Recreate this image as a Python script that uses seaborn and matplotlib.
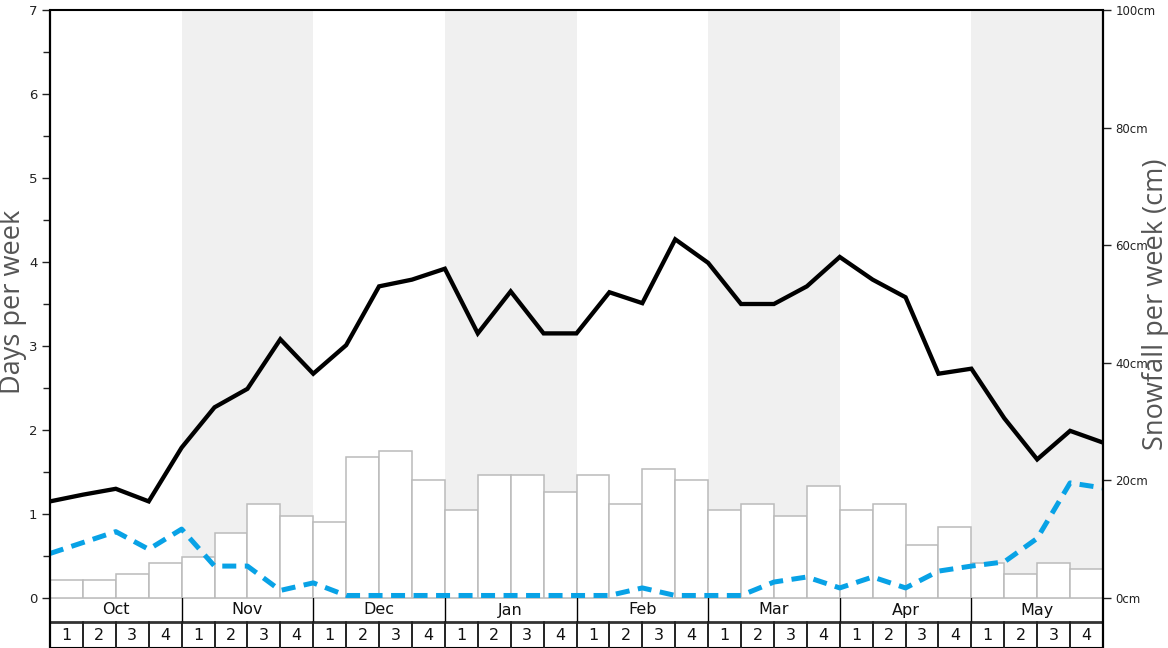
import numpy as np
import pandas as pd
import matplotlib
matplotlib.use("Agg")
import matplotlib.pyplot as plt
import seaborn as sns

sns.set_theme(style="white")
plt.rcParams.update({
    "font.family": ["DejaVu Sans"],
    "xtick.major.size": 0,
    "ytick.direction": "out",
})

# --- data ---
months = ["Oct", "Nov", "Dec", "Jan", "Feb", "Mar", "Apr", "May"]
week_labels = ["1", "2", "3", "4"]

# weekly snowfall (cm), one bar per week
snowfall_cm = [3, 3, 4, 6, 7, 11, 16, 14, 13, 24, 25, 20, 15, 21, 21, 18,
               21, 16, 22, 20, 15, 16, 14, 19, 15, 16, 9, 12, 6, 4, 6, 5]

# lines sampled at week boundaries (33 points)
days_black = [1.15, 1.23, 1.30, 1.15, 1.79, 2.27, 2.49, 3.08, 2.67, 3.01, 3.71,
              3.79, 3.92, 3.15, 3.65, 3.15, 3.15, 3.64, 3.51, 4.27, 3.99, 3.50,
              3.50, 3.71, 4.06, 3.79, 3.58, 2.67, 2.73, 2.14, 1.65, 1.99, 1.85]
days_blue = [0.53, 0.66, 0.79, 0.58, 0.82, 0.38, 0.38, 0.09, 0.18, 0.03, 0.03,
             0.03, 0.03, 0.03, 0.03, 0.03, 0.03, 0.03, 0.12, 0.03, 0.03, 0.03,
             0.19, 0.25, 0.12, 0.25, 0.12, 0.32, 0.38, 0.43, 0.71, 1.37, 1.31]

n_weeks = len(snowfall_cm)
bars_df = pd.DataFrame({"week": np.arange(n_weeks) + 0.5, "snow": snowfall_cm})
lines_df = pd.DataFrame({"pos": np.arange(n_weeks + 1),
                         "black": days_black, "blue": days_blue})

W, H = 1168, 648
fig = plt.figure(figsize=(W / 100, H / 100), dpi=100)
L, R, T, B = 50, 1103, 10, 598
ax_r = fig.add_axes([L / W, (H - B) / H, (R - L) / W, (B - T) / H])
ax = ax_r.twinx()
# left-axis stuff (lines) on top, right-axis (bars) behind
ax.set_zorder(ax_r.get_zorder() + 1)
ax.patch.set_visible(False)

sns.barplot(data=bars_df, x="week", y="snow", native_scale=True, width=1,
            color="white", saturation=1, edgecolor="#bbbbbb", linewidth=1.1,
            errorbar=None, ax=ax_r, zorder=2)

# alternate month shading (behind the bars)
for i in range(1, len(months), 2):
    ax_r.axvspan(i * 4, i * 4 + 4, facecolor="#f0f0f0", edgecolor="none",
                 lw=0, zorder=0.5)

sns.lineplot(data=lines_df, x="pos", y="black", color="black", lw=3.1,
             ax=ax, solid_joinstyle="miter")
sns.lineplot(data=lines_df, x="pos", y="blue", color="#08a2e6", lw=3.6,
             linestyle=(0, (2.8, 1.7)), ax=ax)

ax.set_xlim(0, n_weeks)
ax_r.set_xlim(0, n_weeks)
ax.set_ylim(0, 7)
ax_r.set_ylim(0, 100)

# move "days" axis to the left, snowfall to the right
ax.yaxis.tick_left()
ax_r.yaxis.tick_right()

ax.set_yticks(range(0, 8))
ax.set_yticks(np.arange(0.5, 7, 1), minor=True)
ax.tick_params(axis="y", which="both", length=6, width=1, colors="#222",
               labelsize=9.5, left=True, right=False, pad=3)
ax.tick_params(axis="y", which="minor", length=5)
ax_r.set_yticks(range(0, 101, 20))
ax_r.set_yticklabels([f"{v}cm" for v in range(0, 101, 20)])
ax_r.tick_params(axis="y", length=6, width=1, colors="#222", labelsize=8.5,
                 right=True, left=False, pad=3)

for a in (ax, ax_r):
    a.set_xticks([])
    a.set_xlabel("")
    a.set_ylabel("")
    for s in a.spines.values():
        s.set_visible(False)
ax.spines["top"].set_visible(True)
ax.spines["top"].set_color("black")
ax.spines["top"].set_linewidth(1.5)

# axis titles, placed like the reference
lab_font = ["Open Sans", "DejaVu Sans"]
fig.text(13 / W, (H - 302) / H, "Days per week", rotation=90, ha="center",
         va="center", family=lab_font, fontsize=19.5, color="#555")
fig.text(1156 / W, (H - 304) / H, "Snowfall per week (cm)", rotation=90,
         ha="center", va="center", family=lab_font, fontsize=19.5, color="#555")

# month / week table below the plot
tab = fig.add_axes([L / W, 0, (R - L) / W, (H - B) / H])
tab.set_xlim(0, n_weeks)
tab.set_ylim(0, 50)
tab.axis("off")
tab.axhline(50, color="#bbbbbb", lw=1.2)
tab.axhline(26, color="#333333", lw=2)
tab.axhline(0.3, color="black", lw=1.5)
for i, m in enumerate(months):
    tab.text(i * 4 + 2, 38, m, ha="center", va="center", fontsize=11.5, color="#111")
    if i > 0:
        tab.plot([i * 4, i * 4], [26, 50], color="black", lw=1)
for w in range(n_weeks):
    tab.text(w + 0.5, 12.5, week_labels[w % 4], ha="center", va="center",
             fontsize=11.5, color="#111")
    if w > 0:
        tab.plot([w, w], [0, 26], color="#222", lw=1.4)

# full height side borders
for xf in (L, R):
    fig.add_artist(plt.Line2D([xf / W, xf / W], [0, (H - T) / H],
                              color="black", lw=1.6, transform=fig.transFigure))

fig.savefig("out.png", dpi=100)
